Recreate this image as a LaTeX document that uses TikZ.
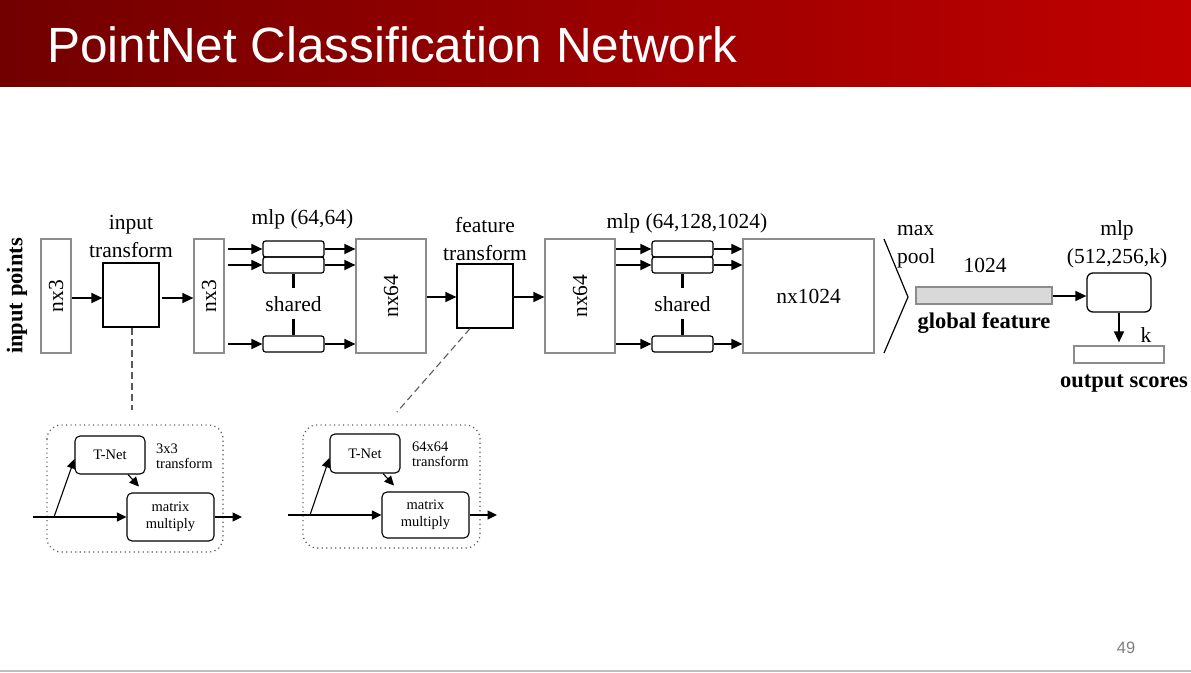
\documentclass[tikz,border=0pt]{standalone}
\usepackage{fontspec}
\setmainfont{Liberation Serif}
\newfontfamily\titlefont{Liberation Sans}
\usetikzlibrary{arrows.meta}
\definecolor{hdrL}{RGB}{114,0,0}
\definecolor{hdrR}{RGB}{192,0,0}
\definecolor{boxgray}{RGB}{140,140,140}
\definecolor{gffill}{RGB}{217,217,217}
\definecolor{linegray}{RGB}{191,191,191}
\definecolor{dashgray}{RGB}{90,90,90}
\tikzset{
  txt/.style={inner sep=0pt, font=\fontsize{21.5}{24}\selectfont},
  btxt/.style={inner sep=0pt, font=\bfseries\fontsize{22.5}{24}\selectfont},
  stxt/.style={inner sep=0pt, font=\fontsize{14.5}{16}\selectfont},
  tallbox/.style={draw=boxgray, line width=1.2pt, minimum height=114pt, inner sep=0pt},
  tfbox/.style={draw=black, line width=1.2pt, minimum width=56pt, minimum height=64pt, inner sep=0pt},
  mlpbox/.style={draw=black, line width=1.2pt, rounded corners=2.5pt, minimum width=61pt, minimum height=16pt, inner sep=0pt},
  arr/.style={line width=1.5pt, -{Triangle[length=11pt,width=10pt]}},
  sarr/.style={line width=1.1pt, -{Triangle[length=9.5pt,width=9pt]}},
  sharedline/.style={line width=2.4pt},
  subbox/.style={draw=black, line width=1.1pt, rounded corners=5pt, inner sep=0pt},
  dotframe/.style={draw=dashgray, line width=1.2pt, dash pattern=on 1.2pt off 3.3pt, rounded corners=14pt},
  dashln/.style={draw=dashgray, line width=1.1pt, dash pattern=on 7pt off 4pt},
}
\begin{document}
\begin{tikzpicture}[x=1pt,y=-1pt]
\useasboundingbox (0,0) rectangle (1191,672);
% header
\shade[left color=hdrL, right color=hdrR] (0,0) rectangle (1191,86);
\node[anchor=base west, text=white, inner sep=0pt, font=\titlefont\fontsize{49.5}{52}\selectfont] (title) at (47,62) {PointNet Classification Network};
\fill[linegray] (0,669.5) rectangle (1191,672);
\node[anchor=base, text=gray, inner sep=0pt, font=\titlefont\fontsize{16.5}{18}\selectfont] (pnum) at (1126,653) {49};

% main pipeline
\node[btxt, rotate=90] (inpts) at (17,296) {input points};
\node[tallbox, minimum width=30pt, label={[txt, rotate=90]center:nx3}] (in1) at (56,296) {};
\node[tfbox] (it1) at (131,295) {};
\node[txt, anchor=base] (it1a) at (131,229) {input};
\node[txt, anchor=base] (it1b) at (131,257) {transform};
\node[tallbox, minimum width=30pt, label={[txt, rotate=90]center:nx3}] (in2) at (209,296) {};

\node[mlpbox] (m1a) at (293.5,249) {};
\node[mlpbox] (m1b) at (293.5,265) {};
\node[mlpbox] (m1c) at (293.5,344) {};
\node[txt, anchor=base] (m1lab) at (302.5,224) {mlp (64,64)};
\node[txt, anchor=base] (m1sh) at (293.5,311) {shared};

\node[tallbox, minimum width=70pt, label={[txt, rotate=90]center:nx64}] (f1) at (391,296) {};
\node[tfbox] (ft) at (485,296) {};
\node[txt, anchor=base] (fta) at (485,232) {feature};
\node[txt, anchor=base] (ftb) at (485,260) {transform};
\node[tallbox, minimum width=70pt, label={[txt, rotate=90]center:nx64}] (f2) at (580,296) {};

\node[mlpbox] (m2a) at (682.5,249) {};
\node[mlpbox] (m2b) at (682.5,265) {};
\node[mlpbox] (m2c) at (682.5,344) {};
\node[txt, anchor=base] (m2lab) at (687,228) {mlp (64,128,1024)};
\node[txt, anchor=base] (m2sh) at (682.5,311) {shared};

\node[tallbox, minimum width=131pt, label={[txt]center:nx1024}] (f3) at (808.5,296) {};

% max pool chevron
\coordinate (mpT) at (884,239);
\coordinate (mpM) at (908,297);
\coordinate (mpB) at (884,353);
\draw[line width=1.2pt] (mpT) -- (mpM) -- (mpB);
\node[txt, anchor=base west] (mpa) at (897,235) {max};
\node[txt, anchor=base west] (mpb) at (897,263) {pool};

\node[draw=boxgray, fill=gffill, line width=1.2pt, minimum width=136pt, minimum height=17pt, inner sep=0pt] (gf) at (984,295.5) {};
\node[txt, anchor=base] (gfn) at (985,272) {1024};
\node[btxt, anchor=base] (gflab) at (984,328) {global feature};

\node[draw=black, line width=1.3pt, rounded corners=6pt, minimum width=64pt, minimum height=39pt, inner sep=0pt] (m3) at (1119,292.5) {};
\node[txt, anchor=base] (m3a) at (1117,235) {mlp};
\node[txt, anchor=base] (m3b) at (1117,263) {(512,256,k)};
\node[draw=boxgray, line width=1.2pt, minimum width=90pt, minimum height=17pt, inner sep=0pt] (out) at (1119,354.5) {};
\node[txt, anchor=base] (kl) at (1146,342) {k};
\node[btxt, anchor=base] (outlab) at (1124,387) {output scores};

% connectors
\draw[arr] (in1.east |- 0,298) -- (it1.west |- 0,298);
\draw[arr, shorten <=2pt] (it1.east |- 0,298) -- (in2.west |- 0,298);
\foreach \b in {m1a,m1b,m1c}{
  \draw[arr, shorten <=3pt] (in2.east |- \b.west) -- (\b.west);
  \draw[arr] (\b.east) -- (f1.west |- \b.east);
}
\draw[sharedline] (m1b.south) -- ++(0,14);
\draw[sharedline] (m1c.north) -- ++(0,-16);
\draw[arr] (f1.east |- 0,297) -- (ft.west |- 0,297);
\draw[arr] (ft.east |- 0,297) -- (f2.west |- 0,297);
\foreach \b in {m2a,m2b,m2c}{
  \draw[arr] (f2.east |- \b.west) -- (\b.west);
  \draw[arr] (\b.east) -- (f3.west |- \b.east);
}
\draw[sharedline] (m2b.south) -- ++(0,14);
\draw[sharedline] (m2c.north) -- ++(0,-16);
\draw[arr] (gf.east |- 0,296) -- (m3.west |- 0,296);
\draw[arr, shorten >=3pt] (m3.south) -- (out.north);

% dashed connectors
\coordinate (d1) at (132,410);
\coordinate (d2) at (397,412);
\draw[dashln] ([xshift=1pt]it1.south) -- (d1);
\draw[dashln] ([xshift=-15pt]ft.south) -- (d2);

% sub-figure 1
\draw[dotframe] (47,425) rectangle (223,552);
\node[subbox, minimum width=70pt, minimum height=38pt, stxt] (tn1) at (110,455) {T-Net};
\node[stxt, anchor=base west] (tn1a) at (156,453) {3x3};
\node[stxt, anchor=base west] (tn1b) at (156,468) {transform};
\node[subbox, minimum width=87pt, minimum height=48pt, stxt, align=center] (mm1) at (170.5,517) {matrix\\[1pt]multiply};
\coordinate (s1in) at (33,517);
\coordinate (s1br) at (54,517);
\coordinate (s1out) at (242,517);
\draw[sarr] (s1in) -- (mm1.west);
\draw[sarr] (s1br) -- (tn1.west |- 0,459);
\draw[sarr] ([xshift=18pt]tn1.south) -- ++(11,12);
\draw[sarr] (mm1.east) -- (s1out);

% sub-figure 2
\draw[dotframe] (303,425) rectangle (480,548);
\node[subbox, minimum width=70pt, minimum height=39pt, stxt] (tn2) at (365,453.5) {T-Net};
\node[stxt, anchor=base west] (tn2a) at (412,451) {64x64};
\node[stxt, anchor=base west] (tn2b) at (412,466) {transform};
\node[subbox, minimum width=87pt, minimum height=46pt, stxt, align=center] (mm2) at (425.5,515) {matrix\\[1pt]multiply};
\coordinate (s2in) at (288,515);
\coordinate (s2br) at (310,515);
\coordinate (s2out) at (497,515);
\draw[sarr] (s2in) -- (mm2.west);
\draw[sarr] (s2br) -- (tn2.west |- 0,458);
\draw[sarr] ([xshift=18pt]tn2.south) -- ++(11,12);
\draw[sarr] (mm2.east) -- (s2out);
\end{tikzpicture}
\end{document}
